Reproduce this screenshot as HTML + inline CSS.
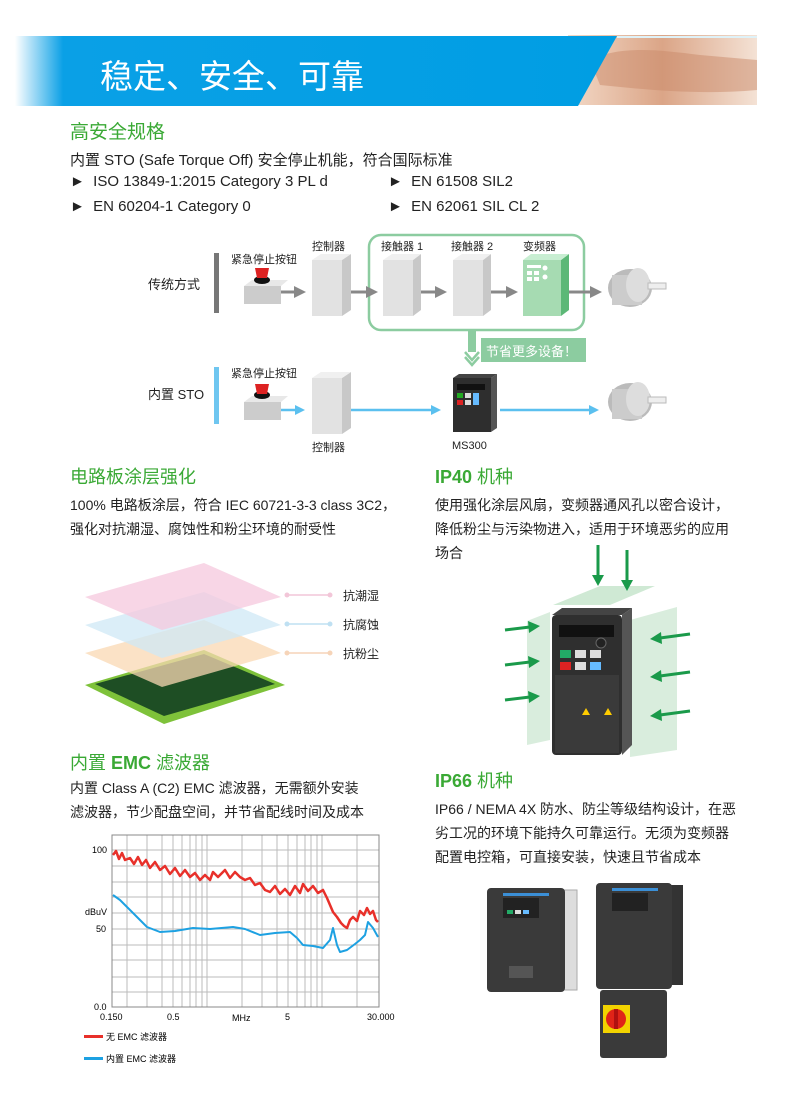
<!DOCTYPE html>
<html><head><meta charset="utf-8"><style>
*{margin:0;padding:0;box-sizing:border-box}
body{width:790px;height:1106px;background:#fff;position:relative;overflow:hidden;font-family:"Liberation Sans","Noto Sans CJK SC",sans-serif;color:#222}
.a{position:absolute;white-space:nowrap}
.h{color:#3aa935;font-size:18px}
.t{font-size:14px;color:#222}
.t2{font-size:15px;color:#222}
.s{font-size:11px;color:#222}
</style></head><body>
<!-- header -->
<svg class="a" style="left:0;top:0" width="790" height="110">
<defs><linearGradient id="hg" x1="0" x2="1"><stop offset="0" stop-color="#fff"/><stop offset="0.08" stop-color="#0aa0e6"/><stop offset="1" stop-color="#009ee3"/></linearGradient>
<linearGradient id="sk" x1="0" x2="1"><stop offset="0" stop-color="#f3d9c7"/><stop offset="0.5" stop-color="#dba587"/><stop offset="1" stop-color="#f4e2d5"/></linearGradient></defs>
<rect x="568" y="35" width="189" height="70" fill="url(#sk)"/>
<path d="M590 60 C620 45 660 50 700 55 L757 60 L757 90 C700 95 650 90 600 85Z" fill="#c98a6a" opacity=".5"/>
<polygon points="15,36 617,36 578,106 15,106" fill="url(#hg)"/>
<rect x="617" y="36" width="140" height="2" fill="#dff2f8"/>
</svg>
<div class="a" style="left:100px;top:50px;font-size:33px;color:#fff">稳定、安全、可靠</div>
<div class="a h" style="left:70px;top:117px;font-size:19px">高安全规格</div>
<div class="a t2" style="left:70px;top:149px">内置 STO (Safe Torque Off) 安全停止机能，符合国际标准</div>
<div class="a t2" style="left:70px;top:173px">► &nbsp;ISO 13849-1:2015 Category 3 PL d</div>
<div class="a t2" style="left:70px;top:198px">► &nbsp;EN 60204-1 Category 0</div>
<div class="a t2" style="left:388px;top:173px">► &nbsp;EN 61508 SIL2</div>
<div class="a t2" style="left:388px;top:198px">► &nbsp;EN 62061 SIL CL 2</div>
<!-- diagram -->
<svg class="a" style="left:0;top:0" width="790" height="460">
<defs><marker id="ga" markerWidth="4" markerHeight="4" refX="2" refY="2" orient="auto"><path d="M0,0L4,2L0,4Z" fill="#888"/></marker>
<marker id="ba" markerWidth="4" markerHeight="4" refX="2" refY="2" orient="auto"><path d="M0,0L4,2L0,4Z" fill="#5bc0ef"/></marker></defs>
<rect x="214" y="253" width="5" height="60" fill="#777"/>
<rect x="214" y="367" width="5" height="57" fill="#6fc6f0"/>
<rect x="369" y="235" width="215" height="95" rx="12" fill="none" stroke="#8ccca0" stroke-width="2.5"/>
<rect x="468" y="330" width="8" height="22" fill="#8ccca0"/>
<path d="M465 352 L472 360 L479 352" stroke="#8ccca0" stroke-width="2.5" fill="none"/>
<path d="M465 357 L472 365 L479 357" stroke="#8ccca0" stroke-width="2.5" fill="none"/>
<rect x="481" y="338" width="105" height="24" fill="#8ccca0"/>
<!-- buttons -->
<g><rect x="244" y="286" width="37" height="18" fill="#ccc"/><polygon points="244,286 252,280 288,280 281,286" fill="#e8e8e8"/><ellipse cx="262" cy="280" rx="8" ry="4" fill="#111"/><path d="M255 268 h14 l-2 10 h-10z" fill="#d22"/></g>
<g><rect x="244" y="402" width="37" height="18" fill="#ccc"/><polygon points="244,402 252,396 288,396 281,402" fill="#e8e8e8"/><ellipse cx="262" cy="395" rx="8" ry="4" fill="#111"/><path d="M255 384 h14 l-2 10 h-10z" fill="#d22"/></g>
<!-- gray boxes -->
<g fill="#e2e2e2"><rect x="312" y="260" width="30" height="56"/><rect x="383" y="260" width="30" height="56"/><rect x="453" y="260" width="30" height="56"/><rect x="312" y="378" width="30" height="56"/></g>
<g fill="#c8c8c8"><polygon points="342,260 351,254 351,310 342,316"/><polygon points="413,260 421,254 421,310 413,316"/><polygon points="483,260 491,254 491,310 483,316"/><polygon points="342,378 351,372 351,428 342,434"/></g>
<g fill="#f0f0f0"><polygon points="312,260 321,254 351,254 342,260"/><polygon points="383,260 392,254 421,254 413,260"/><polygon points="453,260 462,254 491,254 483,260"/><polygon points="312,378 321,372 351,372 342,378"/></g>
<rect x="523" y="260" width="38" height="56" fill="#a6dbb2"/><polygon points="561,260 569,254 569,310 561,316" fill="#5cb877"/><polygon points="523,260 531,254 569,254 561,260" fill="#c8eed2"/>
<g fill="#fff"><rect x="527" y="265" width="14" height="3"/><rect x="527" y="271" width="5" height="4"/><rect x="534" y="271" width="5" height="4"/><rect x="527" y="277" width="5" height="4"/><rect x="534" y="277" width="5" height="4"/><circle cx="545" cy="268" r="2.5"/><circle cx="545" cy="277" r="2.5"/></g>
<!-- MS300 -->
<rect x="453" y="378" width="38" height="54" fill="#2e2e2e"/><polygon points="491,378 497,374 497,428 491,432" fill="#555"/><polygon points="453,378 459,374 497,374 491,378" fill="#444"/>
<rect x="457" y="384" width="28" height="6" fill="#111"/><rect x="457" y="393" width="6" height="5" fill="#2a2"/><rect x="465" y="393" width="6" height="5" fill="#ddd"/><rect x="457" y="400" width="6" height="5" fill="#d22"/><rect x="465" y="400" width="6" height="5" fill="#ddd"/><rect x="473" y="393" width="6" height="12" fill="#6bf"/>
<!-- motors -->
<g><ellipse cx="630" cy="288" rx="22" ry="19" fill="#bbb"/><rect x="612" y="275" width="30" height="30" fill="#ccc"/><ellipse cx="638" cy="285" rx="12" ry="17" fill="#ddd"/><rect x="648" y="283" width="18" height="6" fill="#eee" stroke="#bbb"/></g>
<g><ellipse cx="630" cy="402" rx="22" ry="19" fill="#bbb"/><rect x="612" y="389" width="30" height="30" fill="#ccc"/><ellipse cx="638" cy="399" rx="12" ry="17" fill="#ddd"/><rect x="648" y="397" width="18" height="6" fill="#eee" stroke="#bbb"/></g>
<!-- arrows -->
<g stroke="#888" stroke-width="3" marker-end="url(#ga)"><line x1="281" y1="292" x2="300" y2="292"/><line x1="351" y1="292" x2="372" y2="292"/><line x1="421" y1="292" x2="441" y2="292"/><line x1="491" y1="292" x2="512" y2="292"/><line x1="569" y1="292" x2="596" y2="292"/></g>
<g stroke="#5bc0ef" stroke-width="2.5" marker-end="url(#ba)"><line x1="281" y1="410" x2="300" y2="410"/><line x1="351" y1="410" x2="436" y2="410"/><line x1="500" y1="410" x2="594" y2="410"/></g>
</svg>
<div class="a" style="left:148px;top:274px;font-size:13px">传统方式</div>
<div class="a" style="left:148px;top:384px;font-size:13px">内置 STO</div>
<div class="a s" style="left:231px;top:251px">紧急停止按钮</div>
<div class="a s" style="left:231px;top:365px">紧急停止按钮</div>
<div class="a s" style="left:312px;top:238px">控制器</div>
<div class="a s" style="left:381px;top:238px">接触器 1</div>
<div class="a s" style="left:451px;top:238px">接触器 2</div>
<div class="a s" style="left:523px;top:238px">变频器</div>
<div class="a s" style="left:312px;top:439px">控制器</div>
<div class="a s" style="left:452px;top:440px">MS300</div>
<div class="a" style="left:486px;top:341px;font-size:13px;color:#fff">节省更多设备！</div>
<!-- section 2 -->
<div class="a h" style="left:70px;top:463px">电路板涂层强化</div>
<div class="a h" style="left:435px;top:463px"><b>IP40</b> 机种</div>
<div class="a t" style="left:70px;top:495px">100% 电路板涂层，符合 IEC 60721-3-3 class 3C2，</div>
<div class="a t" style="left:70px;top:519px">强化对抗潮湿、腐蚀性和粉尘环境的耐受性</div>
<div class="a t" style="left:435px;top:495px">使用强化涂层风扇，变频器通风孔以密合设计，</div>
<div class="a t" style="left:435px;top:519px">降低粉尘与污染物进入，适用于环境恶劣的应用</div>
<div class="a t" style="left:435px;top:543px">场合</div>
<svg class="a" style="left:0;top:540px" width="790" height="230">
<g transform="translate(0,-540)">
<polygon points="85,685 204,650 285,685 164,724" fill="#7ec23a"/>
<polygon points="95,684 204,654 275,684 164,716" fill="#1e4e24"/>
<polygon points="85,653 204,620 281,653 162,687" fill="#f9d8b3" opacity=".75"/>
<polygon points="85,625 204,592 281,625 162,658" fill="#cfe8f6" opacity=".75"/>
<polygon points="85,597 204,563 281,597 162,630" fill="#f5c8dd" opacity=".75"/>
<g stroke-width="1.5"><line x1="287" y1="595" x2="330" y2="595" stroke="#f2c6d8"/><line x1="287" y1="624" x2="330" y2="624" stroke="#bfe0f2"/><line x1="287" y1="653" x2="330" y2="653" stroke="#f6d4b8"/></g>
<circle cx="287" cy="595" r="2.5" fill="#f2c6d8"/><circle cx="330" cy="595" r="2.5" fill="#f2c6d8"/>
<circle cx="287" cy="624" r="2.5" fill="#bfe0f2"/><circle cx="330" cy="624" r="2.5" fill="#bfe0f2"/>
<circle cx="287" cy="653" r="2.5" fill="#f6d4b8"/><circle cx="330" cy="653" r="2.5" fill="#f6d4b8"/>
<!-- IP40 drive -->
<polygon points="527,621 550,612 550,740 527,745" fill="#cfe9d4" opacity=".8"/>
<polygon points="553,605 600,586 655,586 610,605" fill="#cfe9d4"/>
<polygon points="630,620 677,607 677,750 630,757" fill="#cfe9d4" opacity=".8"/>
<rect x="552" y="615" width="70" height="140" rx="4" fill="#2f2f2f"/>
<polygon points="622,615 632,608 632,745 622,755" fill="#555"/>
<polygon points="552,615 562,608 632,608 622,615" fill="#444"/>
<rect x="559" y="625" width="55" height="12" fill="#111"/>
<circle cx="601" cy="643" r="5" fill="#222" stroke="#666"/>
<rect x="560" y="650" width="11" height="8" fill="#2a6"/><rect x="575" y="650" width="11" height="8" fill="#ddd"/><rect x="590" y="650" width="11" height="8" fill="#ddd"/>
<rect x="560" y="662" width="11" height="8" fill="#d22"/><rect x="575" y="662" width="11" height="8" fill="#ddd"/><rect x="590" y="662" width="11" height="8" fill="#6bf"/>
<rect x="555" y="675" width="64" height="78" fill="#3a3a3a"/>
<polygon points="582,715 586,708 590,715" fill="#fc0"/><polygon points="604,715 608,708 612,715" fill="#fc0"/>
<g fill="#1a9a4a" stroke="#1a9a4a" stroke-width="3">
<line x1="598" y1="545" x2="598" y2="578"/><polygon points="592,575 604,575 598,586" stroke="none"/>
<line x1="627" y1="550" x2="627" y2="582"/><polygon points="621,580 633,580 627,591" stroke="none"/>
<line x1="505" y1="630" x2="530" y2="627"/><polygon points="528,621 540,626 529,633" stroke="none"/>
<line x1="505" y1="665" x2="530" y2="662"/><polygon points="528,656 540,661 529,668" stroke="none"/>
<line x1="505" y1="700" x2="530" y2="697"/><polygon points="528,691 540,696 529,703" stroke="none"/>
<line x1="690" y1="634" x2="660" y2="638"/><polygon points="661,632 650,639 662,644" stroke="none"/>
<line x1="690" y1="672" x2="660" y2="676"/><polygon points="661,670 650,677 662,682" stroke="none"/>
<line x1="690" y1="711" x2="660" y2="715"/><polygon points="661,709 650,716 662,721" stroke="none"/>
</g>
</g></svg>
<div class="a" style="left:343px;top:587px;font-size:12px">抗潮湿</div>
<div class="a" style="left:343px;top:616px;font-size:12px">抗腐蚀</div>
<div class="a" style="left:343px;top:645px;font-size:12px">抗粉尘</div>
<!-- section 3 -->
<div class="a h" style="left:70px;top:749px">内置 <b>EMC</b> 滤波器</div>
<div class="a h" style="left:435px;top:767px"><b>IP66</b> 机种</div>
<div class="a t" style="left:70px;top:778px">内置 Class A (C2) EMC 滤波器，无需额外安装</div>
<div class="a t" style="left:70px;top:802px">滤波器，节少配盘空间，并节省配线时间及成本</div>
<div class="a t" style="left:435px;top:799px">IP66 / NEMA 4X 防水、防尘等级结构设计，在恶</div>
<div class="a t" style="left:435px;top:823px">劣工况的环境下能持久可靠运行。无须为变频器</div>
<div class="a t" style="left:435px;top:847px">配置电控箱，可直接安装，快速且节省成本</div>
<!-- chart -->
<svg class="a" style="left:0;top:820px" width="420" height="260" font-family="Liberation Sans, sans-serif" font-size="9">
<g transform="translate(0,-820)">
<g stroke="#bbb" stroke-width="1">
<line x1="112" y1="850" x2="379" y2="850"/><line x1="112" y1="866" x2="379" y2="866"/><line x1="112" y1="882" x2="379" y2="882"/><line x1="112" y1="897" x2="379" y2="897"/><line x1="112" y1="913" x2="379" y2="913"/><line x1="112" y1="929" x2="379" y2="929"/><line x1="112" y1="945" x2="379" y2="945"/><line x1="112" y1="960" x2="379" y2="960"/><line x1="112" y1="977" x2="379" y2="977"/><line x1="112" y1="992" x2="379" y2="992"/>
<line x1="127" y1="835" x2="127" y2="1007"/><line x1="147" y1="835" x2="147" y2="1007"/><line x1="162" y1="835" x2="162" y2="1007"/><line x1="173" y1="835" x2="173" y2="1007"/><line x1="182" y1="835" x2="182" y2="1007"/><line x1="190" y1="835" x2="190" y2="1007"/><line x1="196" y1="835" x2="196" y2="1007"/><line x1="202" y1="835" x2="202" y2="1007"/><line x1="207" y1="835" x2="207" y2="1007"/><line x1="242" y1="835" x2="242" y2="1007"/><line x1="262" y1="835" x2="262" y2="1007"/><line x1="277" y1="835" x2="277" y2="1007"/><line x1="288" y1="835" x2="288" y2="1007"/><line x1="297" y1="835" x2="297" y2="1007"/><line x1="305" y1="835" x2="305" y2="1007"/><line x1="311" y1="835" x2="311" y2="1007"/><line x1="317" y1="835" x2="317" y2="1007"/><line x1="322" y1="835" x2="322" y2="1007"/><line x1="357" y1="835" x2="357" y2="1007"/>
</g>
<rect x="112" y="835" width="267" height="172" fill="none" stroke="#888"/>
<polyline points="113,855 116,851 119,859 122,853 125,860 130,858 134,864 138,857 142,865 146,860 150,868 155,862 160,870 165,866 170,874 175,868 180,876 185,870 190,877 195,873 200,880 205,875 210,880 213,872 218,877 225,870 230,878 235,872 240,877 245,880 250,878 255,885 260,883 265,890 270,892 275,886 280,894 285,889 290,895 295,886 300,893 303,884 308,891 313,886 318,893 323,890 327,898 330,905 333,912 337,917 341,923 344,926 347,928 350,920 353,917 357,921 360,911 364,915 367,908 370,914 373,911 376,920 378,922" fill="none" stroke="#e8302a" stroke-width="2.5" stroke-linejoin="round"/>
<polyline points="113,895 120,900 127,907 137,917 147,927 160,932 175,931 193,928 210,929 233,927 245,929 260,935 275,933 290,932 297,938 303,945 313,946 323,948 330,940 333,928 337,945 340,952 347,950 355,944 360,940 365,935 368,922 373,928 378,937" fill="none" stroke="#1da1e2" stroke-width="2" stroke-linejoin="round"/>
<text x="92" y="853">100</text><text x="85" y="915">dBuV</text><text x="96" y="932">50</text><text x="94" y="1010">0.0</text>
<text x="100" y="1020">0.150</text><text x="167" y="1020">0.5</text><text x="232" y="1021">MHz</text><text x="285" y="1020">5</text><text x="367" y="1020">30.000</text>
<rect x="84" y="1035" width="19" height="3" fill="#e8302a"/><rect x="84" y="1057" width="19" height="3" fill="#1da1e2"/>
<text x="106" y="1040">无 EMC 滤波器</text><text x="106" y="1062">内置 EMC 滤波器</text>
</g></svg>
<!-- IP66 drives -->
<svg class="a" style="left:470px;top:870px" width="240" height="220">
<g transform="translate(-470,-870)">
<rect x="562" y="890" width="15" height="100" fill="#ddd" stroke="#aaa"/>
<rect x="487" y="888" width="78" height="104" rx="4" fill="#3a3a3a"/>
<rect x="503" y="893" width="46" height="3" fill="#3b8fd6"/>
<rect x="503" y="898" width="36" height="20" fill="#222"/>
<rect x="507" y="910" width="6" height="4" fill="#2a6"/><rect x="515" y="910" width="6" height="4" fill="#ddd"/><rect x="523" y="910" width="6" height="4" fill="#6bf"/>
<rect x="509" y="966" width="24" height="12" fill="#555"/>
<rect x="670" y="885" width="13" height="100" fill="#333"/>
<rect x="596" y="883" width="76" height="106" rx="4" fill="#3a3a3a"/>
<rect x="612" y="888" width="46" height="3" fill="#3b8fd6"/>
<rect x="612" y="893" width="36" height="18" fill="#222"/>
<rect x="600" y="990" width="67" height="68" rx="3" fill="#3a3a3a"/>
<rect x="603" y="1005" width="27" height="28" fill="#f2d300"/>
<circle cx="616" cy="1019" r="10" fill="#e02418"/><rect x="614" y="1009" width="4" height="20" fill="#b01010"/>
</g></svg>
</body></html>
